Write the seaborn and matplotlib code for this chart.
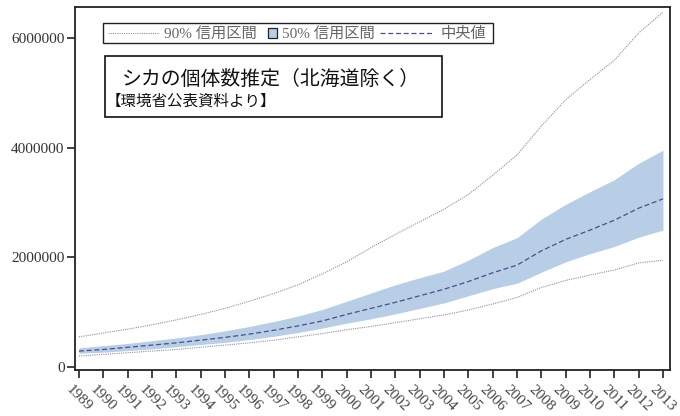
import numpy as np
import pandas as pd
import matplotlib
matplotlib.use("Agg")
import matplotlib.pyplot as plt
import seaborn as sns
from matplotlib.lines import Line2D
from matplotlib.patches import Rectangle

years = list(range(1989, 2014))
median = [290e3, 320e3, 360e3, 400e3, 440e3, 490e3, 540e3, 600e3, 670e3, 750e3, 840e3, 960e3,
          1.07e6, 1.18e6, 1.30e6, 1.42e6, 1.56e6, 1.72e6, 1.86e6, 2.12e6, 2.33e6, 2.50e6, 2.68e6, 2.90e6, 3.07e6]
ci90_upper = [550e3, 620e3, 690e3, 770e3, 860e3, 960e3, 1.07e6, 1.20e6, 1.34e6, 1.50e6, 1.70e6, 1.92e6,
              2.18e6, 2.42e6, 2.65e6, 2.88e6, 3.15e6, 3.50e6, 3.87e6, 4.40e6, 4.88e6, 5.25e6, 5.60e6, 6.10e6, 6.48e6]
ci90_lower = [200e3, 230e3, 260e3, 290e3, 320e3, 360e3, 400e3, 440e3, 490e3, 550e3, 610e3, 680e3,
              740e3, 810e3, 880e3, 950e3, 1.04e6, 1.15e6, 1.27e6, 1.45e6, 1.58e6, 1.68e6, 1.77e6, 1.90e6, 1.95e6]
ci50_upper = [350e3, 390e3, 430e3, 480e3, 530e3, 590e3, 660e3, 740e3, 830e3, 930e3, 1.05e6, 1.20e6,
              1.35e6, 1.50e6, 1.63e6, 1.75e6, 1.95e6, 2.18e6, 2.36e6, 2.70e6, 2.97e6, 3.20e6, 3.42e6, 3.72e6, 3.96e6]
ci50_lower = [250e3, 270e3, 300e3, 330e3, 370e3, 410e3, 450e3, 500e3, 560e3, 630e3, 710e3, 800e3,
              880e3, 970e3, 1.07e6, 1.17e6, 1.30e6, 1.43e6, 1.53e6, 1.73e6, 1.92e6, 2.07e6, 2.20e6, 2.37e6, 2.50e6]
yticks = [0, 2000000, 4000000, 6000000]
legend_labels = ["90% 信用区間", "50% 信用区間", "中央値"]
title_text = "シカの個体数推定（北海道除く）"
subtitle_text = "【環境省公表資料より】"

df = pd.DataFrame({"year": years, "median": median, "u90": ci90_upper, "l90": ci90_lower,
                   "u50": ci50_upper, "l50": ci50_lower})

sns.set_style("ticks")
plt.rcParams['font.family'] = ['Noto Sans CJK JP', 'DejaVu Sans']

W, H = 680, 416
fig = plt.figure(figsize=(W / 100, H / 100), dpi=100)
ax = fig.add_axes([75 / W, 1 - 370 / H, (670 - 75) / W, (370 - 7) / H])

band_color = "#b8cde6"
c90 = "#8e8eab"
cmed = "#4a4f86"
ls90 = (0, (1, 1))
lsmed = (0, (4, 2.2))

ax.fill_between(df["year"], df["l50"], df["u50"], color=band_color, linewidth=0, zorder=1)
sns.lineplot(data=df, x="year", y="u90", ax=ax, color=c90, linewidth=0.8, linestyle=ls90, zorder=2)
sns.lineplot(data=df, x="year", y="l90", ax=ax, color=c90, linewidth=0.8, linestyle=ls90, zorder=2)
sns.lineplot(data=df, x="year", y="median", ax=ax, color=cmed, linewidth=0.9, linestyle=lsmed, zorder=3)

ax.set_xlim(1988.84, 2013.29)
ax.set_ylim(-55000, 6575000)
ax.set_xticks(years)
ax.set_yticks(yticks)
ax.set_xlabel("")
ax.set_ylabel("")
serif = ['Liberation Serif', 'DejaVu Serif']
ax.set_yticklabels([str(v) for v in yticks], family=serif, fontsize=11, color="#333333")
ax.set_xticklabels([str(y) for y in years], family=serif, fontsize=11, color="#444444",
                   rotation=-45, ha='center', va='top')
ax.tick_params(axis='both', length=5.5, width=1.2, color="#222222")
ax.tick_params(axis='x', pad=3.5)
ax.tick_params(axis='y', pad=2)
for s in ax.spines.values():
    s.set_color("#222222")
    s.set_linewidth(1.3)

# ---- legend box (drawn in figure pixel layout) ----
def fx(x):
    return x / W

def fy(y):
    return 1 - y / H

leg_font = ['Liberation Serif', 'Noto Sans CJK JP', 'DejaVu Sans']
fig.add_artist(Rectangle((fx(103), fy(43)), (493 - 103) / W, 20 / H, transform=fig.transFigure,
                         facecolor="white", edgecolor="#222222", linewidth=1.0, zorder=5))
fig.add_artist(Line2D([fx(108), fx(158)], [fy(33), fy(33)], transform=fig.transFigure,
                      color=c90, linewidth=0.8, linestyle=ls90, zorder=6))
fig.text(fx(164), fy(33.5), legend_labels[0], fontsize=11, color="#666666", va='center', ha='left',
         family=leg_font, zorder=6)
fig.add_artist(Rectangle((fx(268), fy(37.5)), 9 / W, 9 / H, transform=fig.transFigure,
                         facecolor=band_color, edgecolor="#222222", linewidth=0.9, zorder=6))
fig.text(fx(282), fy(33.5), legend_labels[1], fontsize=11, color="#666666", va='center', ha='left',
         family=leg_font, zorder=6)
fig.add_artist(Line2D([fx(380), fx(433)], [fy(33), fy(33)], transform=fig.transFigure,
                      color=cmed, linewidth=0.9, linestyle=lsmed, zorder=6))
fig.text(fx(441), fy(33.5), legend_labels[2], fontsize=11, color="#666666", va='center', ha='left',
         family=leg_font, zorder=6)

# ---- title box ----
fig.add_artist(Rectangle((fx(105), fy(117)), (442 - 105) / W, (117 - 56) / H, transform=fig.transFigure,
                         facecolor="white", edgecolor="#111111", linewidth=1.2, zorder=5))
fig.text(fx(122), fy(79), title_text, fontsize=14.3, color="#111111", va='center', ha='left', zorder=6)
fig.text(fx(106), fy(101.5), subtitle_text, fontsize=11.2, color="#111111", va='center', ha='left', zorder=6)

fig.savefig("out.png", dpi=100)
